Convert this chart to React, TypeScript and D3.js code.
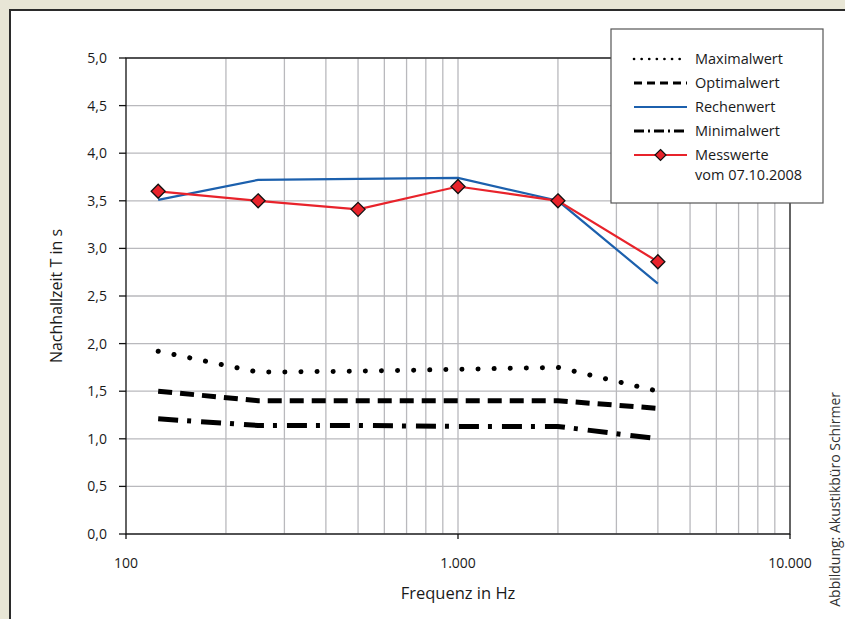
import React from "react";
import * as d3 from "d3";

const freqs = [125, 250, 500, 1000, 2000, 4000];
const maximalwert = [1.92, 1.7, 1.71, 1.73, 1.75, 1.5];
const optimalwert = [1.5, 1.4, 1.4, 1.4, 1.4, 1.32];
const rechenwert = [3.51, 3.72, 3.73, 3.74, 3.5, 2.63];
const minimalwert = [1.21, 1.14, 1.14, 1.13, 1.13, 1.0];
const messwerte = [3.6, 3.5, 3.41, 3.65, 3.5, 2.86];
const yTicks = [0, 0.5, 1, 1.5, 2, 2.5, 3, 3.5, 4, 4.5, 5];
const xMajor = [100, 1000, 10000];
const xMajorLabels = ["100", "1.000", "10.000"];
const legendLabels = ["Maximalwert", "Optimalwert", "Rechenwert", "Minimalwert", "Messwerte", "vom 07.10.2008"];

const W = 845, H = 619;
const M = { left: 126, right: 790, top: 58, bottom: 534 };
const FONT = "'Open Sans', 'Noto Sans', sans-serif";

export default function App() {
  const x = d3.scaleLog().domain([100, 10000]).range([M.left, M.right]);
  const y = d3.scaleLinear().domain([0, 5]).range([M.bottom, M.top]);
  const line = (vals: number[]) =>
    d3.line<number>().x((_, i) => x(freqs[i])).y((v) => y(v))(vals) || "";

  const minorX: number[] = [];
  for (let dec = 100; dec < 10000; dec *= 10) {
    for (let k = 2; k <= 9; k++) minorX.push(dec * k);
  }
  const red = "#e8232b";
  const blue = "#1c60ad";
  const txt = "#1a1a1a";
  const diamond = (cx: number, cy: number, r: number) =>
    `M${cx},${cy - r}L${cx + r},${cy}L${cx},${cy + r}L${cx - r},${cy}Z`;

  const lgX0 = 634, lgX1 = 687, lgT = 695;
  const lgY = [59, 83, 107, 131, 155, 175];

  return (
    <div style={{ position: "absolute", left: 0, top: 0 }}>
      <svg width={W} height={H} style={{ display: "block", fontFamily: FONT }}>
        <rect x={0} y={0} width={W} height={H} fill="#e8e6d6" />
        <rect x={10} y={10} width={W + 20} height={H + 20} fill="#fff" stroke="#2b2b2b" strokeWidth={2} />
        {/* grid */}
        {minorX.map((f) => (
          <line key={"gx" + f} x1={x(f)} x2={x(f)} y1={M.top} y2={M.bottom} stroke="#b9b9bd" strokeWidth={1.3} />
        ))}
        <line x1={x(1000)} x2={x(1000)} y1={M.top} y2={M.bottom} stroke="#b9b9bd" strokeWidth={1.3} />
        {yTicks.map((t) => (
          <line key={"gy" + t} x1={M.left} x2={M.right} y1={y(t)} y2={y(t)} stroke="#b9b9bd" strokeWidth={1.3} />
        ))}
        {/* frame */}
        <rect x={M.left} y={M.top} width={M.right - M.left} height={M.bottom - M.top} fill="none" stroke="#111" strokeWidth={1.3} />
        {/* y ticks */}
        {yTicks.map((t) => (
          <g key={"yt" + t}>
            <line x1={M.left - 7} x2={M.left} y1={y(t)} y2={y(t)} stroke="#111" strokeWidth={1.3} />
            <text x={107} y={y(t)} dy="0.35em" textAnchor="end" fontSize={14} fill={txt}>
              {t.toFixed(1).replace(".", ",")}
            </text>
          </g>
        ))}
        {xMajor.map((f, i) => (
          <g key={"xt" + f}>
            <line x1={x(f)} x2={x(f)} y1={M.bottom} y2={M.bottom + 5} stroke="#111" strokeWidth={1.3} />
            <text x={x(f)} y={568} textAnchor="middle" fontSize={14} fill={txt}>
              {xMajorLabels[i]}
            </text>
          </g>
        ))}
        <text x={x(1000)} y={599} textAnchor="middle" fontSize={16.5} fill={txt}>Frequenz in Hz</text>
        <text transform={`translate(62,${(M.top + M.bottom) / 2}) rotate(-90)`} textAnchor="middle" fontSize={16} fill={txt}>
          Nachhallzeit T in s
        </text>
        {/* series */}
        <path d={line(maximalwert)} fill="none" stroke="#000" strokeWidth={5} strokeLinecap="round" strokeDasharray="0.1 16" />
        <path d={line(optimalwert)} fill="none" stroke="#000" strokeWidth={5} strokeDasharray="14 8" />
        <path d={line(minimalwert)} fill="none" stroke="#000" strokeWidth={5} strokeDasharray="20 9 4 10" />
        <path d={line(rechenwert)} fill="none" stroke={blue} strokeWidth={2.2} />
        <path d={line(messwerte)} fill="none" stroke={red} strokeWidth={2.2} />
        {messwerte.map((v, i) => (
          <path key={"m" + i} d={diamond(x(freqs[i]), y(v), 7)} fill={red} stroke="#111" strokeWidth={1.3} />
        ))}
        {/* legend */}
        <rect x={611} y={29} width={212} height={174} fill="#fff" stroke="#555" strokeWidth={1.2} />
        <line x1={lgX0} x2={lgX1} y1={lgY[0]} y2={lgY[0]} stroke="#000" strokeWidth={2.6} strokeLinecap="round" strokeDasharray="0.1 7.5" />
        <line x1={lgX0} x2={lgX1} y1={lgY[1]} y2={lgY[1]} stroke="#000" strokeWidth={2.8} strokeDasharray="8 5" />
        <line x1={lgX0} x2={lgX1} y1={lgY[2]} y2={lgY[2]} stroke={blue} strokeWidth={2.2} />
        <line x1={lgX0} x2={lgX1} y1={lgY[3]} y2={lgY[3]} stroke="#000" strokeWidth={2.8} strokeDasharray="10 4 2 4" />
        <line x1={lgX0} x2={lgX1} y1={lgY[4]} y2={lgY[4]} stroke={red} strokeWidth={2.2} />
        <path d={diamond((lgX0 + lgX1) / 2, lgY[4], 5.5)} fill={red} stroke="#111" strokeWidth={1.2} />
        {legendLabels.map((l, i) => (
          <text key={l} x={lgT} y={lgY[i]} dy="0.35em" fontSize={14.5} fill={txt}>{l}</text>
        ))}
        {/* credit */}
        <text transform={`translate(839.5,392) rotate(-90)`} textAnchor="end" fontSize={14} fill="#333">
          Abbildung: Akustikbüro Schirmer
        </text>
      </svg>
    </div>
  );
}
